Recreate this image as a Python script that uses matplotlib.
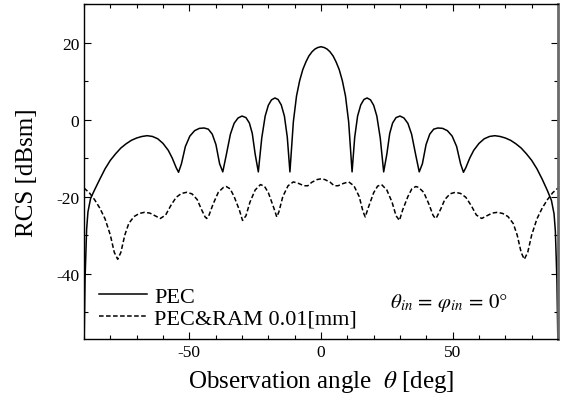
import numpy as np
import matplotlib
matplotlib.use("Agg")
import matplotlib.pyplot as plt
from matplotlib.ticker import MultipleLocator

plt.rcParams['font.family'] = ['Liberation Serif', 'DejaVu Serif']
plt.rcParams['mathtext.fontset'] = 'stix'
plt.rcParams['axes.unicode_minus'] = False

# PEC curve (left half, right half is the same read mirrored)
pec_ang_left = [-90, -89.6, -89, -88.5, -87.5, -86, -84, -82, -80, -78, -76, -74, -72, -70,
                -68, -66, -64, -62, -60, -58, -56.5, -55, -54.1, -53, -51.5, -49.8, -48,
                -46.2, -44.4, -42.8, -41.3, -39.9, -38.5, -37.3, -36, -34.4, -33, -31.5,
                -30, -28.5, -27.2, -26.1, -25.0, -23.8, -22.5, -21.2, -20.0, -18.8, -17.5,
                -16.3, -15.1, -13.9, -12.8, -11.8, -10.5, -9.3, -8.1, -6.9, -5.7, -4.6,
                -3.4, -2.3, -1.2]
pec_val_left = [-60, -41.5, -28.5, -24.0, -20.5, -18.3, -15.5, -12.8, -10.6, -8.9, -7.4, -6.3, -5.4, -4.8,
                -4.4, -4.2, -4.4, -5.0, -6.2, -8.0, -10.0, -12.5, -13.7, -11.5, -7.0, -4.3, -2.9,
                -2.3, -2.2, -2.5, -3.8, -6.5, -11.5, -13.6, -9.3, -3.8, -1.0, 0.4,
                0.9, 0.5, -0.9, -3.6, -9.0, -13.6, -4.8, 0.9, 3.7, 5.1, 5.6,
                5.2, 3.8, 0.9, -4.6, -13.6, -0.6, 6.1, 10.1, 13.0, 15.0, 16.5,
                17.6, 18.3, 18.7]
pec_ang_mid = [0]
pec_val_mid = [18.9]
pec_ang_right = [1.2, 2.3, 3.4, 4.6, 5.7, 6.9, 8.1, 9.3, 10.5, 11.8, 12.8, 13.9, 15.1, 16.3,
                 17.5, 18.8, 20.0, 21.2, 22.5, 23.8, 25.0, 26.1, 27.2, 28.5, 30, 31.5, 33,
                 34.4, 36, 37.3, 38.5, 39.9, 41.3, 42.8, 44.4, 46.2, 48, 49.8, 51.5, 53,
                 54.1, 55, 56.5, 58, 60, 62, 64, 66, 68, 70, 72, 74, 76, 78, 80, 82, 84,
                 86, 87.5, 88.5, 89, 89.6, 90]
pec_val_right = [18.7, 18.3, 17.6, 16.5, 15.0, 13.0, 10.1, 6.1, -0.6, -13.6, -4.6, 0.9, 3.8, 5.2,
                 5.6, 5.1, 3.7, 0.9, -4.8, -13.6, -9.0, -3.6, -0.9, 0.5, 0.9, 0.4, -1.0,
                 -3.8, -9.3, -13.6, -11.5, -6.5, -3.8, -2.5, -2.2, -2.3, -2.9, -4.3, -7.0, -11.5,
                 -13.7, -12.5, -10.0, -8.0, -6.2, -5.0, -4.4, -4.2, -4.4, -4.8, -5.4, -6.3, -7.4,
                 -8.9, -10.6, -12.8, -15.5, -18.5, -21.0, -24.5, -29.0, -42.0, -60]

# PEC & RAM 0.01 mm curve
ram_ang = [-90, -88, -86, -84, -82, -80, -78.5, -77.2, -76, -74.5, -73, -71, -69, -67, -65,
           -63, -61, -59, -57, -55, -53, -51, -49, -47, -45.5, -44, -43.4, -42.5, -41, -39,
           -37, -36, -34.5, -33, -31, -29.8, -28.5, -27, -25, -23, -21.5, -20, -18, -16.8,
           -16, -14.5, -12.5, -10.5, -8.5, -6.5, -5, -3.5, -1.5, 0,
           1.5, 3.5, 5, 6.5, 8.5, 10.5, 12.5, 14.5, 16, 16.8, 18, 20, 21.5, 23, 25, 27,
           28.5, 29.8, 31, 33, 34.5, 36, 37, 39, 41, 42.5, 43.4, 44, 45.5, 47, 49, 51, 53,
           55, 57, 59, 61, 63, 65, 67, 69, 71, 73, 74.5, 76, 77.2, 78.5, 80, 82, 84, 86,
           88, 90]
ram_val = [-17.8, -19.0, -20.8, -23.0, -25.8, -30.0, -34.5, -36.3, -34.5, -30.0, -27.0, -25.2,
           -24.4, -24.1, -24.3, -25.0, -25.7, -24.8, -22.3, -20.2, -19.2, -18.9, -19.3, -20.8,
           -23.2, -25.3, -25.7, -24.8, -22.0, -18.9, -17.6, -17.4, -18.0, -20.0, -23.5, -26.2,
           -25.0, -21.5, -18.3, -16.9, -17.3, -19.0, -22.8, -25.3, -24.0, -20.0, -17.2, -16.2,
           -16.6, -17.2, -17.2, -16.3, -15.6, -15.4,
           -15.6, -16.3, -17.2, -17.2, -16.6, -16.2, -17.2, -20.0, -24.0, -25.3, -22.8, -19.0,
           -17.3, -16.9, -18.3, -21.5, -25.0, -26.2, -23.5, -20.0, -18.0, -17.4, -17.6, -18.9,
           -22.0, -24.8, -25.7, -25.3, -23.2, -20.8, -19.3, -18.9, -19.2, -20.2, -22.3, -24.8,
           -25.7, -25.0, -24.3, -24.1, -24.4, -25.2, -27.0, -30.0, -34.5, -36.3, -34.5, -30.0,
           -25.8, -23.0, -20.8, -19.0, -17.8]

pec_ang = pec_ang_left + pec_ang_mid + pec_ang_right
pec_val = pec_val_left + pec_val_mid + pec_val_right

fig = plt.figure(figsize=(5.64, 4.02), dpi=100)
ax = fig.add_axes([84/564, 1-340/402, 474/564, 335/402])

ax.plot(pec_ang, pec_val, color='black', lw=1.1, label='PEC')
ax.plot(ram_ang, ram_val, color='black', lw=1.1, ls=(0, (3.0, 1.6)), label='PEC&RAM 0.01[mm]')

ax.set_xlim(-90, 90)
ax.set_ylim(-57, 30)
ax.set_xticks([-50, 0, 50])
ax.set_yticks([-40, -20, 0, 20])
ax.xaxis.set_minor_locator(MultipleLocator(10))
ax.yaxis.set_minor_locator(MultipleLocator(10))
ax.tick_params(which='both', direction='in', top=True, right=True, labelsize=12.5, width=0.8)
ax.tick_params(which='major', length=5)
ax.tick_params(which='minor', length=3)
for s in ax.spines.values():
    s.set_linewidth(1.0)
ax.spines['right'].set_color('#6a6a6a')
ax.spines['right'].set_linewidth(2.0)

ax.set_xlabel('Observation angle  $\\theta$ [deg]', fontsize=18, labelpad=6)
ax.set_ylabel('RCS [dBsm]', fontsize=18, labelpad=13)

ax.text(48.5, -47.5, r'$\theta_{in}\,=\,\varphi_{in}\,=\,0°$', fontsize=15, ha='center', va='center')

ax.legend(loc='lower left', frameon=False, fontsize=16, handlelength=2.2,
          handletextpad=0.3, labelspacing=0.05, borderaxespad=0.3,
          bbox_to_anchor=(-0.002, -0.015))

fig.savefig('out.png', dpi=100)
